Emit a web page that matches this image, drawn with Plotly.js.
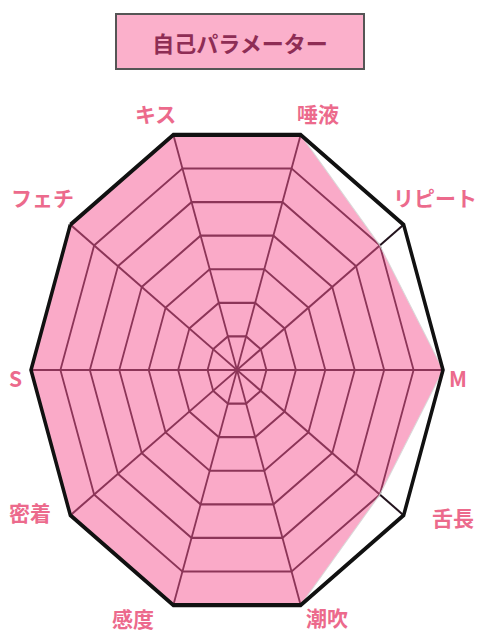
<!DOCTYPE html>
<html>
<head>
<meta charset="utf-8">
<script src="https://cdn.plot.ly/plotly-3.0.1.min.js"></script>
<style>
html,body{margin:0;padding:0;background:#fff;}
#chart{width:480px;height:640px;}
/* the reference radar is an ellipse: stretch only the plot layer (not the text layer) */
#chart .svg-container > svg.main-svg:first-of-type{
  transform: scaleY(1.2);
  transform-origin: 237px 370px;
}
</style>
</head>
<body>
<div id="chart"></div>
<script>
const titleText = "自己パラメーター";
const categories = ["キス", "唾液", "リピート", "M", "舌長", "潮吹", "感度", "密着", "S", "フェチ"];
const values = [7, 7, 6, 7, 6, 7, 7, 7, 7, 7];
const maxValue = 7;

// label centres in pixels (layout only)
const labelPx = [[155,113],[318,113],[435,197],[458,378],[453,517],[327,617],[133,618],[30,512],[15,378],[42,197]];

const W = 480, H = 640;

const trace = {
  type: "scatterpolar",
  r: values.concat([values[0]]),
  theta: categories.concat([categories[0]]),
  mode: "lines",
  fill: "toself",
  fillcolor: "rgba(245,85,145,0.5)",
  line: {color: "rgba(215,215,215,0.9)", width: 1},
  hoverinfo: "skip",
  showlegend: false
};

const annotations = [{
  text: "<b>" + titleText + "</b>",
  xref: "paper", yref: "paper",
  x: 240 / W, y: 1 - 41 / H,
  xanchor: "center", yanchor: "middle",
  showarrow: false,
  width: 246, height: 53,
  bgcolor: "#fbb0cb",
  bordercolor: "#555555",
  borderwidth: 2,
  borderpad: 0,
  font: {size: 22, color: "#8e2d55", family: "'Noto Sans CJK JP', sans-serif"}
}];
categories.forEach((c, i) => {
  annotations.push({
    text: "<b>" + c + "</b>",
    xref: "paper", yref: "paper",
    x: labelPx[i][0] / W, y: 1 - labelPx[i][1] / H,
    xanchor: "center", yanchor: "middle",
    showarrow: false,
    font: {size: 21, color: "#ec6a8c", family: "'Noto Sans CJK JP', sans-serif"}
  });
});

const layout = {
  width: W,
  height: H,
  margin: {l: 0, r: 0, t: 0, b: 0},
  paper_bgcolor: "#ffffff",
  plot_bgcolor: "#ffffff",
  showlegend: false,
  font: {family: "'Noto Sans CJK JP', 'Noto Sans', sans-serif"},
  polar: {
    domain: {x: [31 / W, 443 / W], y: [64 / H, 476 / H]},
    bgcolor: "#ffffff",
    gridshape: "linear",
    radialaxis: {
      range: [0, maxValue],
      dtick: 1,
      showticklabels: false,
      ticks: "",
      showline: false,
      gridcolor: "rgb(35,20,30)",
      gridwidth: 1.8
    },
    angularaxis: {
      rotation: 108,
      direction: "clockwise",
      gridcolor: "rgb(35,20,30)",
      gridwidth: 1.8,
      linecolor: "#111111",
      linewidth: 3.5,
      ticks: "",
      showticklabels: false
    }
  },
  annotations: annotations
};

Plotly.newPlot("chart", [trace], layout, {displayModeBar: false, staticPlot: true});
</script>
</body>
</html>
